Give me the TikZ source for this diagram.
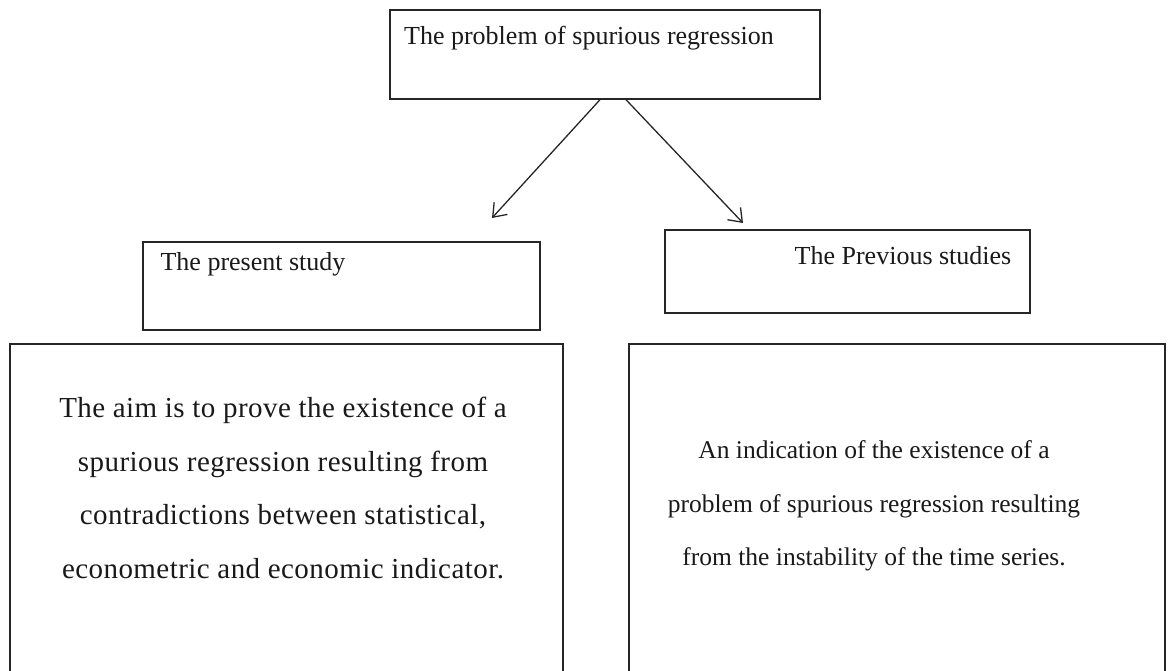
\documentclass[tikz,border=0pt]{standalone}
\usepackage{fontspec}
\setmainfont{Liberation Serif}
\usetikzlibrary{arrows.meta}
\begin{document}
\begin{tikzpicture}[x=1pt,y=-1pt,
  box/.style={draw=black!85, line width=1.4pt, rectangle, inner sep=0pt},
  txt/.style={font=\fontsize{26}{53.5}\selectfont, align=center, inner sep=0pt, text=black!90},
  big/.style={txt, font=\fontsize{29}{53.5}\selectfont\addfontfeature{LetterSpace=1.5}},
  arr/.style={-{Straight Barb[length=12pt,width=18pt,line width=1.3pt]}, line width=1.3pt, draw=black!85}]
\useasboundingbox (0,0) rectangle (1176,670);
\clip (0,0) rectangle (1176,670);
% boxes
\node[box, minimum width=430pt, minimum height=89pt] (top) at (605,54.5) {};
\node[box, minimum width=397pt, minimum height=88pt] (pres) at (341.5,286) {};
\node[box, minimum width=365pt, minimum height=83pt] (prev) at (847.5,271.5) {};
\node[box, minimum width=553pt, minimum height=360pt] (left) at (286.5,524) {};
\node[box, minimum width=536pt, minimum height=360pt] (right) at (897,524) {};
% texts
\node[txt] (ttop) at (589,38) {The problem of spurious regression};
\node[txt] (tpres) at (253,264) {The present study};
\node[txt] (tprev) at (903,256) {The Previous studies};
\node[big] (tleft) at (283,488) {The aim is to prove the existence of a\\ spurious regression resulting from\\ contradictions between statistical,\\ econometric and economic indicator.};
\node[txt, font=\fontsize{25.5}{53.5}\selectfont] (tright) at (874,506) {An indication of the existence of a\\ problem of spurious regression resulting\\ from the instability of the time series.};
% arrows
\coordinate (e1) at (492,218);
\coordinate (e2) at (743,223);
\draw[arr] ([xshift=-5pt]top.south) -- (e1);
\draw[arr] ([xshift=21pt]top.south) -- (e2);
\end{tikzpicture}
\end{document}
